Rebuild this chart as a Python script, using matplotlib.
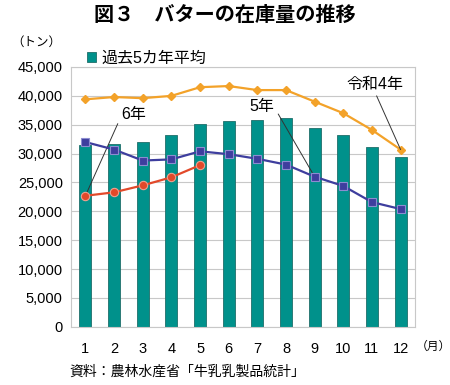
import matplotlib
matplotlib.use("Agg")
import matplotlib.pyplot as plt
import numpy as np

plt.rcParams['font.family'] = ['Liberation Sans', 'Noto Sans CJK JP']

# データ（トン）
months = [1, 2, 3, 4, 5, 6, 7, 8, 9, 10, 11, 12]
avg5 = [31500, 31700, 32000, 33300, 35100, 35600, 35800, 36100, 34500, 33300, 31100, 29400]
r4 = [39400, 39800, 39600, 40000, 41500, 41700, 41000, 41000, 39000, 37000, 34100, 30700]
r5 = [32000, 30700, 28800, 29000, 30400, 29900, 29100, 28100, 26000, 24400, 21600, 20400]
r6 = [22700, 23300, 24500, 25900, 28000]

fig = plt.figure(figsize=(4.5, 3.85), dpi=100)
ax = fig.add_axes([0.158, 0.151, 0.764, 0.675])

bars = ax.bar(months, avg5, width=0.42, color='#00918B', edgecolor='#1F6E6A', linewidth=0.6,
              label='過去5カ年平均', zorder=2)
ax.plot(months, r4, color='#F3A229', lw=1.6, marker='D', ms=4, mfc='#F3A229', mec='#F3A229', zorder=3)
ax.plot(months, r5, color='#3E3E9E', lw=1.6, marker='s', ms=6, mfc='#3E3E9E', mec='#8C8CD0', mew=0.8, zorder=4)
ax.plot(months[:len(r6)], r6, color='#E2492A', lw=1.6, marker='o', ms=6, mfc='#E2492A', mec='#F0A090', mew=0.8, zorder=5)

ax.set_xlim(0.5, 12.5)
ax.set_ylim(0, 45000)
ax.set_yticks(np.arange(0, 45001, 5000))
ax.set_yticklabels([f'{v:,}' for v in range(0, 45001, 5000)])
ax.set_xticks(months)
ax.tick_params(axis='both', length=0, labelsize=10.5, pad=6)
ax.tick_params(axis='x', pad=11)
ax.grid(axis='y', color='#C8C8C8', lw=0.8, zorder=0)
for s in ax.spines.values():
    s.set_color('#C8C8C8')
    s.set_linewidth(0.8)

# 注記
ax.annotate('6年', xy=(1, r6[0]), xytext=(2.7, 36700), fontsize=11.5,
            ha='center', va='center',
            arrowprops=dict(arrowstyle='-', color='#333333', lw=0.7,
                            shrinkA=2, shrinkB=0, relpos=(0, 0.5)))
ax.annotate('5年', xy=(9, r5[8]), xytext=(7.15, 38100), fontsize=11.5,
            ha='center', va='center',
            arrowprops=dict(arrowstyle='-', color='#333333', lw=0.7,
                            shrinkA=2, shrinkB=0, relpos=(1, 0.5)))
ax.annotate('令和4年', xy=(12, r4[11]), xytext=(11.1, 42000), fontsize=11.5,
            ha='center', va='center',
            arrowprops=dict(arrowstyle='-', color='#333333', lw=0.7,
                            shrinkA=1, shrinkB=0, relpos=(0.5, 0)))

fig.legend(handles=[bars], loc='upper left', bbox_to_anchor=(0.175, 0.89), frameon=False,
           fontsize=11.5, handlelength=0.6, handleheight=0.6, handletextpad=0.3, borderpad=0)

fig.text(0.5, 0.96, '図３　バターの在庫量の推移', ha='center', va='center', fontsize=14.5, fontweight='bold')
fig.text(0.08, 0.888, '（トン）', ha='center', va='center', fontsize=9)
fig.text(0.924, 0.098, '（月）', ha='left', va='center', fontsize=8.5)
fig.text(0.155, 0.035, '資料：農林水産省「牛乳乳製品統計」', ha='left', va='center', fontsize=10)

fig.savefig('out.png', dpi=100)
